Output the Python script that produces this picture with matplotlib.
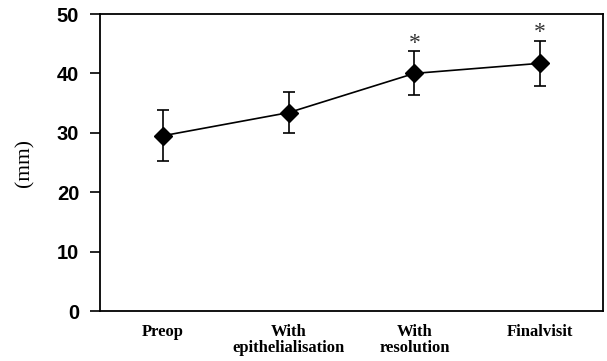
import matplotlib
matplotlib.use("Agg")
import matplotlib.pyplot as plt

categories = ["Preop", "With\nepithelialisation", "With\nresolution", "Finalvisit"]
means = [29.5, 33.4, 40.0, 41.7]
errors = [4.3, 3.4, 3.7, 3.8]
significant = [False, False, True, True]
y_ticks = [0, 10, 20, 30, 40, 50]

fig = plt.figure(figsize=(6.07, 3.61), dpi=100)
ax = fig.add_axes([0.1647, 0.1385, 0.8287, 0.8227])

x = list(range(len(categories)))
ax.errorbar(x, means, yerr=errors, fmt='-D', color='black', ms=8.7, lw=1.2,
            elinewidth=1.2, capsize=4.5, capthick=1.2)

for xi, m, e, s in zip(x, means, errors, significant):
    if s:
        ax.annotate('*', (xi, m + e), xytext=(0, 6), textcoords='offset points',
                    ha='center', va='center', fontsize=17, color='#333333',
                    family='Liberation Serif')

ax.set_xlim(-0.5, 3.5)
ax.set_ylim(0, 50)
ax.set_yticks(y_ticks)
ax.set_yticklabels([str(t) for t in y_ticks], fontsize=14.5, fontweight='bold',
                   family='Liberation Sans')
ax.set_xticks(x)
ax.set_xticklabels(categories, fontsize=12, fontweight='bold',
                   family='Liberation Serif', va='top', linespacing=1.0)
ax.tick_params(axis='x', length=0, pad=9)
ax.tick_params(axis='y', length=7, width=1.2, direction='out', pad=8)
for sp in ax.spines.values():
    sp.set_linewidth(1.3)
ax.set_ylabel('(mm)', family='Liberation Serif', fontsize=15.5, labelpad=16)

fig.savefig('out.png', dpi=100)
